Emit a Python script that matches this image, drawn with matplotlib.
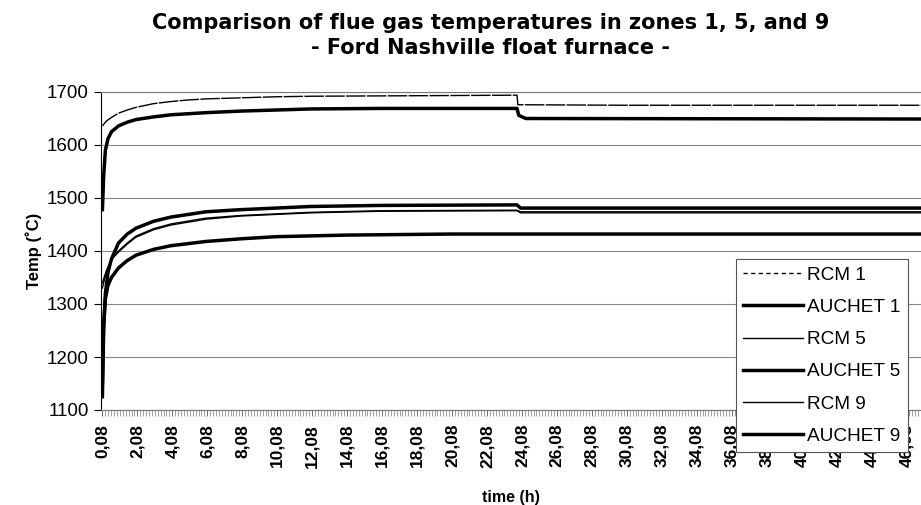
import numpy as np
import matplotlib.pyplot as plt

plt.rcParams['font.family'] = ['Liberation Sans', 'DejaVu Sans']

# hours / flue gas temperature (deg C)
t_rcm1 = [0.08, 0.3, 0.6, 1.0, 1.5, 2, 3, 4, 5, 6, 8, 10, 12, 18, 23.8, 23.85, 30, 47]
rcm1 = [1636, 1645, 1652, 1660, 1666, 1671, 1678, 1682, 1685, 1687, 1689, 1691, 1692, 1693, 1694, 1676, 1675, 1675]

t_auchet1 = [0.08, 0.15, 0.25, 0.4, 0.6, 1.0, 1.5, 2, 3, 4, 6, 8, 10, 12, 16, 23.8, 23.9, 24.3, 47]
auchet1 = [1478, 1540, 1590, 1612, 1625, 1636, 1643, 1648, 1653, 1657, 1661, 1664, 1666, 1668, 1669, 1669, 1656, 1650, 1649]

t_rcm5 = [0.08, 0.3, 0.6, 1.0, 1.5, 2, 3, 4, 6, 8, 10, 12, 16, 23.8, 24.0, 47]
rcm5 = [1330, 1360, 1385, 1400, 1415, 1428, 1442, 1451, 1462, 1467, 1470, 1473, 1476, 1477, 1474, 1474]

t_auchet5 = [0.08, 0.15, 0.25, 0.4, 0.6, 1.0, 1.5, 2, 3, 4, 5, 6, 8, 10, 12, 16, 23.8, 24.0, 47]
auchet5 = [1125, 1250, 1320, 1360, 1385, 1415, 1432, 1443, 1456, 1464, 1469, 1474, 1478, 1481, 1484, 1486, 1487, 1481, 1481]

t_rcm9 = [0.08, 0.3, 0.6, 1.0, 1.5, 2, 3, 4, 6, 8, 10, 12, 16, 23.8, 24.0, 47]
rcm9 = [1340, 1362, 1384, 1398, 1413, 1426, 1440, 1449, 1460, 1466, 1469, 1472, 1475, 1476, 1472, 1472]

t_auchet9 = [0.08, 0.15, 0.25, 0.4, 0.6, 1.0, 1.5, 2, 3, 4, 6, 8, 10, 14, 20, 47]
auchet9 = [1150, 1260, 1310, 1335, 1350, 1368, 1382, 1392, 1403, 1410, 1418, 1423, 1427, 1430, 1432, 1432]

xticks = np.arange(0.08, 47, 2)
xlabels = [f'{v:.2f}'.replace('.', ',') for v in xticks]
yticks = [1100, 1200, 1300, 1400, 1500, 1600, 1700]

fig = plt.figure(figsize=(9.21, 5.05), dpi=100)
ax = fig.add_axes([101/921, 95/505, 820/921, 318/505])

ax.plot(t_rcm1, rcm1, color='black', lw=1.0, dashes=(14, 1), label='RCM 1')
ax.plot(t_auchet1, auchet1, color='black', lw=2.5, label='AUCHET 1')
ax.plot(t_rcm5, rcm5, color='black', lw=1.0, label='RCM 5')
ax.plot(t_auchet5, auchet5, color='black', lw=2.5, label='AUCHET 5')
ax.plot(t_rcm9, rcm9, color='black', lw=1.0, label='RCM 9')
ax.plot(t_auchet9, auchet9, color='black', lw=2.5, label='AUCHET 9')

ax.set_xlim(0.0, 46.9)
ax.set_ylim(1100, 1700)
ax.set_yticks(yticks)
ax.set_xticks(xticks)
ax.set_xticklabels(xlabels, rotation=90, fontsize=12.5, fontweight='bold')
ax.set_xticks(np.arange(0.08, 47, 1/6), minor=True)
ax.tick_params(axis='x', which='major', length=4, width=0.6, color='#555555', pad=6)
ax.tick_params(axis='x', which='minor', length=4, width=0.5, color='#777777')
ax.tick_params(axis='y', length=5, width=0.8, labelsize=13.5, pad=4)

ax.grid(axis='y', color='#888888', lw=0.8)
ax.spines['right'].set_visible(False)
ax.spines['top'].set_color('#777777')
ax.spines['top'].set_linestyle((0, (1, 1)))
ax.spines['bottom'].set_color('#777777')
ax.spines['left'].set_linewidth(0.8)

ax.set_ylabel('Temp (˚C)', fontsize=12, fontweight='bold', labelpad=3)
ax.set_xlabel('time (h)', fontsize=11.5, fontweight='bold', labelpad=16)

fig.suptitle('Comparison of flue gas temperatures in zones 1, 5, and 9\n- Ford Nashville float furnace -',
             x=0.533, y=0.975, fontsize=15, fontweight='bold', linespacing=1.35,
             family=['DejaVu Sans'])

leg = ax.legend(loc='upper left', bbox_to_anchor=(0.774, 0.475), fontsize=13.7,
                handlelength=3.15, handletextpad=0.2, labelspacing=0.78,
                borderaxespad=0, borderpad=0.4, fancybox=False, framealpha=1,
                edgecolor='#555555')
leg.get_frame().set_linewidth(0.8)
leg.get_lines()[0].set_dashes((3, 2.5))
leg.set_zorder(10)

fig.savefig('out.png', dpi=100)
